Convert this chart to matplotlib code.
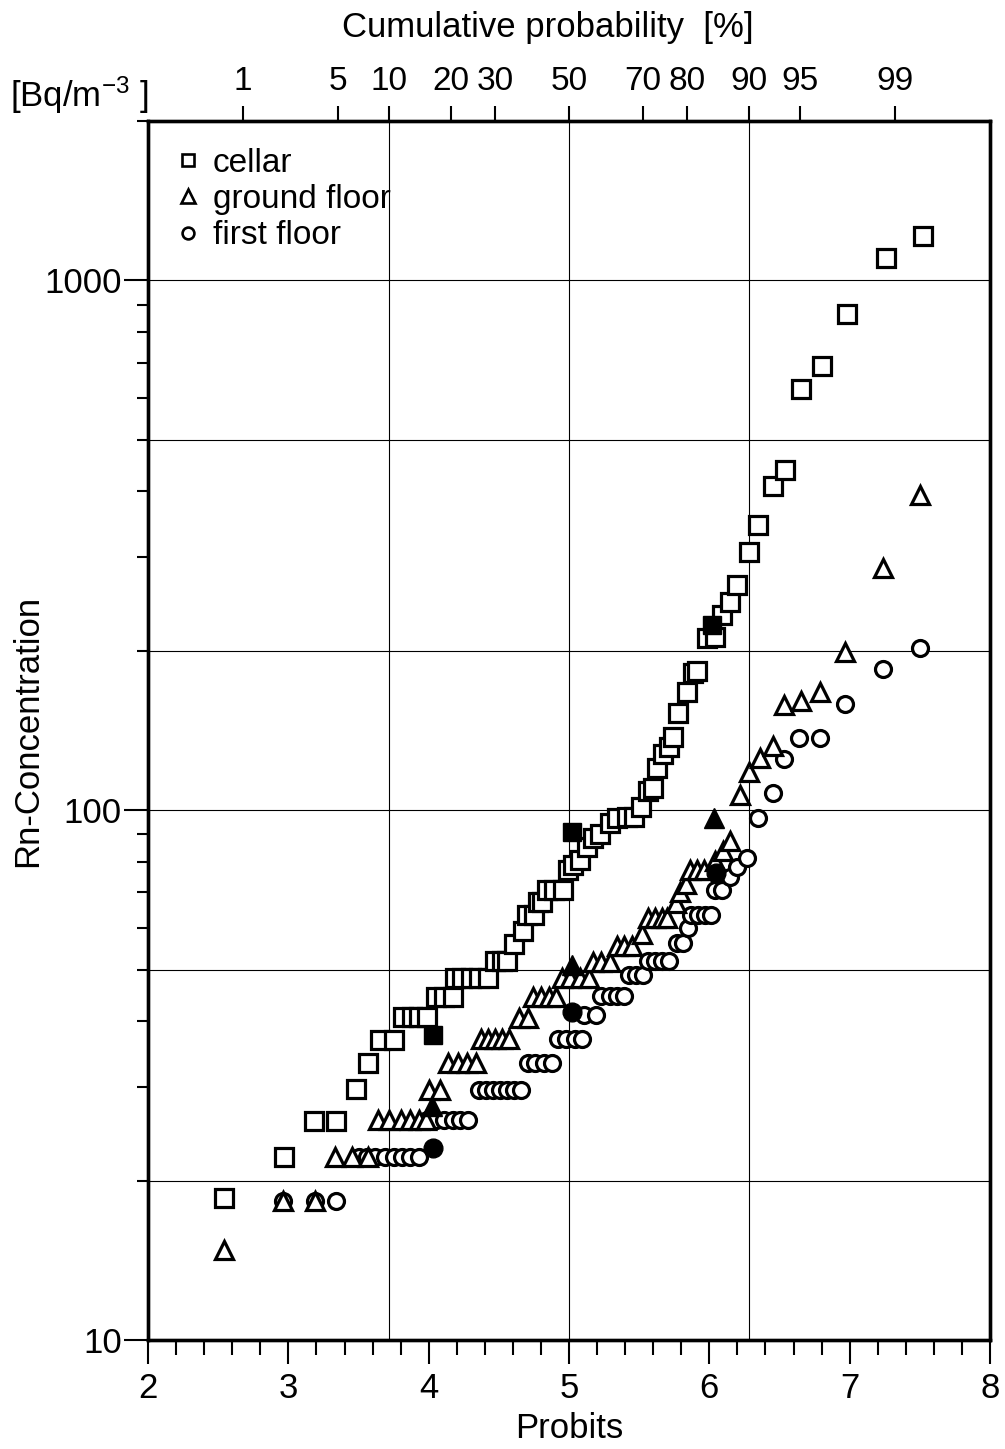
import math
import matplotlib
matplotlib.use("Agg")
import matplotlib.pyplot as plt
from matplotlib.lines import Line2D
from matplotlib.ticker import FixedLocator, LogLocator, NullFormatter

plt.rcParams['font.family'] = ['Liberation Sans', 'DejaVu Sans']
plt.rcParams['mathtext.fontset'] = 'custom'
plt.rcParams['mathtext.rm'] = 'Liberation Sans'
plt.rcParams['mathtext.it'] = 'Liberation Sans:italic'

# cellar (open squares)
cellar_probit = [2.54, 2.97, 3.18, 3.34, 3.48, 3.57, 3.65, 3.75,
                 3.82, 3.88, 3.93, 3.99,
                 4.05, 4.11, 4.17,
                 4.19, 4.24, 4.30, 4.36, 4.42,
                 4.47, 4.52, 4.56,
                 4.61, 4.67, 4.70, 4.75, 4.78, 4.81,
                 4.84, 4.89, 4.96,
                 4.99, 5.03, 5.08, 5.13, 5.17, 5.22, 5.29, 5.34, 5.41, 5.46, 5.51, 5.56, 5.60,
                 5.63, 5.67, 5.71, 5.74, 5.78, 5.84, 5.88, 5.91, 5.98, 6.04, 6.09, 6.15,
                 6.20, 6.28, 6.35, 6.45, 6.54, 6.65, 6.80, 6.98, 7.26, 7.52]
cellar_conc = [18.5, 22.2, 25.9, 25.9, 29.8, 33.3, 36.8, 36.8,
               40.7, 40.7, 40.7, 40.7,
               44.4, 44.4, 44.4,
               48.2, 48.2, 48.2, 48.2, 48.2,
               51.9, 51.9, 51.9,
               55.9, 59.1, 63.4, 63.4, 67.0, 67.0,
               70.6, 70.6, 70.6,
               77.1, 78.7, 80.5, 85.2, 88.5, 90.2, 94.5, 96.6, 96.9, 96.9, 101.4, 108.8, 110.3,
               120, 127.8, 131.4, 137.7, 152.4, 167, 181.7, 183.5, 211, 212, 233.5, 246.8,
               266, 307, 345, 410, 438, 625, 691, 866, 1101, 1211]

# ground floor (open triangles)
ground_probit = [2.54, 2.96, 3.19,
                 3.33, 3.45, 3.57,
                 3.64, 3.72, 3.80, 3.87, 3.93, 3.98,
                 4.00, 4.08,
                 4.14, 4.21, 4.27, 4.34,
                 4.37, 4.42, 4.47, 4.52, 4.57,
                 4.64, 4.71,
                 4.74, 4.80, 4.86, 4.91,
                 4.95, 5.01, 5.08, 5.14,
                 5.17, 5.23, 5.29,
                 5.34, 5.39, 5.45,
                 5.52,
                 5.56, 5.61, 5.66, 5.70,
                 5.76, 5.79, 5.83,
                 5.86, 5.91, 5.96,
                 6.04, 6.10, 6.15,
                 6.22, 6.28, 6.36, 6.45, 6.53, 6.65, 6.79, 6.97, 7.24, 7.50]
ground_conc = [14.8, 18.3, 18.3,
               22.2, 22.2, 22.2,
               26.0, 26.0, 26.0, 26.0, 26.0, 26.0,
               29.6, 29.6,
               33.3, 33.3, 33.3, 33.3,
               37.0, 37.0, 37.0, 37.0, 37.0,
               40.5, 40.5,
               44.4, 44.4, 44.4, 44.4,
               48.3, 48.3, 48.3, 48.3,
               51.8, 51.8, 51.8,
               55.5, 55.5, 55.5,
               58.5,
               62.6, 62.6, 62.6, 62.6,
               66.8, 70.0, 72.6,
               77.0, 77.0, 77.0,
               80.2, 83.9, 87.6,
               106.7, 118, 125.6, 132.5, 158, 161, 167.5, 199, 287, 393]

# first floor (open circles)
first_probit = [2.96, 3.19, 3.34,
                3.50, 3.56, 3.62, 3.69, 3.75, 3.81, 3.87, 3.93,
                3.99, 4.05, 4.11, 4.17, 4.22, 4.28,
                4.36, 4.41, 4.46, 4.51, 4.56, 4.61, 4.66,
                4.71, 4.76, 4.82, 4.88,
                4.92, 4.98, 5.04, 5.09,
                5.11, 5.19,
                5.23, 5.29, 5.34, 5.39,
                5.43, 5.48, 5.53,
                5.56, 5.61, 5.66, 5.71,
                5.77, 5.81,
                5.85,
                5.87, 5.92, 5.97, 6.01,
                6.04, 6.09,
                6.15, 6.20, 6.27,
                6.35, 6.45, 6.53, 6.64, 6.79, 6.97, 7.24, 7.50]
first_conc = [18.3, 18.3, 18.3,
              22.2, 22.2, 22.2, 22.2, 22.2, 22.2, 22.2, 22.2,
              26.0, 26.0, 26.0, 26.0, 26.0, 26.0,
              29.6, 29.6, 29.6, 29.6, 29.6, 29.6, 29.6,
              33.3, 33.3, 33.3, 33.3,
              37.0, 37.0, 37.0, 37.0,
              41.0, 41.0,
              44.6, 44.6, 44.6, 44.6,
              48.8, 48.8, 48.8,
              52.0, 52.0, 52.0, 52.0,
              56.1, 56.1,
              60.0,
              63.4, 63.4, 63.4, 63.4,
              70.6, 70.6,
              74.7, 78.1, 81.4,
              96.6, 107.6, 125, 137, 137, 159, 185, 202]

# filled markers at probits 4, 5, 6
cellar_mark_probit = [4.03, 5.02, 6.02]
cellar_mark_conc = [37.6, 91.0, 224.0]
ground_mark_probit = [4.02, 5.02, 6.03]
ground_mark_conc = [27.6, 51.0, 96.6]
first_mark_probit = [4.03, 5.02, 6.05]
first_mark_conc = [23.0, 41.6, 76.0]

top_percent = [1, 5, 10, 20, 30, 50, 70, 80, 90, 95, 99]
grid_percent = [10, 50, 90]
grid_conc = [20, 50, 100, 200, 500, 1000]


def probit(pct):
    q = pct / 100.0
    lo, hi = -8.0, 8.0
    for _ in range(80):
        mid = (lo + hi) / 2
        if 0.5 * (1 + math.erf(mid / math.sqrt(2))) < q:
            lo = mid
        else:
            hi = mid
    return 5 + (lo + hi) / 2


fig = plt.figure(figsize=(10.05, 14.49), dpi=100)
ax = fig.add_axes([0.1473, 0.0752, 0.8378, 0.8413])
ax.set_xlim(2, 8)
ax.set_yscale('log')
ax.set_ylim(10, 2000)

for p in grid_percent:
    ax.axvline(probit(p), color='black', lw=0.8, zorder=1)
for c in grid_conc:
    ax.axhline(c, color='black', lw=0.8, zorder=1)

mk = dict(linestyle='none', markerfacecolor='white', markeredgecolor='black',
          markeredgewidth=2.3, zorder=3)
ax.plot(first_probit, first_conc, marker='o', markersize=11.5, **mk)
ax.plot(ground_probit, ground_conc, marker='^', markersize=13, **mk)
ax.plot(cellar_probit, cellar_conc, marker='s', markersize=12.5, **mk)

fk = dict(linestyle='none', color='black', zorder=4)
ax.plot(cellar_mark_probit, cellar_mark_conc, marker='s', markersize=13.5, **fk)
ax.plot(ground_mark_probit, ground_mark_conc, marker='^', markersize=15, **fk)
ax.plot(first_mark_probit, first_mark_conc, marker='o', markersize=13.5, **fk)

for s in ax.spines.values():
    s.set_linewidth(2.4)

ax.xaxis.set_major_locator(FixedLocator([2, 3, 4, 5, 6, 7, 8]))
ax.xaxis.set_minor_locator(FixedLocator([2 + 0.2 * i for i in range(31)]))
ax.yaxis.set_major_locator(FixedLocator([10, 100, 1000]))
ax.yaxis.set_minor_locator(LogLocator(base=10, subs=range(2, 10)))
ax.yaxis.set_minor_formatter(NullFormatter())
ax.set_yticklabels(['10', '100', '1000'])
ax.tick_params(axis='x', which='major', direction='out', length=17, width=1.5,
               labelsize=25, pad=6)
ax.tick_params(axis='x', which='minor', direction='out', length=11, width=1.5)
ax.tick_params(axis='y', which='major', direction='out', length=17, width=1.5,
               labelsize=25, pad=2)
ax.tick_params(axis='y', which='minor', direction='out', length=8, width=1.5)

ax2 = ax.twiny()
ax2.set_xlim(2, 8)
ax2.set_xticks([probit(p) for p in top_percent])
ax2.set_xticklabels([str(p) for p in top_percent])
ax2.tick_params(axis='x', direction='out', length=11, width=1.5, labelsize=24, pad=6)
for s in ax2.spines.values():
    s.set_linewidth(2.4)

ax.set_xlabel('Probits', fontsize=25, labelpad=5)
ax.set_ylabel('Rn-Concentration', fontsize=25, labelpad=0)
fig.text(0.545, 0.981, 'Cumulative probability  [%]', fontsize=25, ha='center', va='center')
fig.text(0.01, 0.934, r'[Bq/m$^{-3}$ ]', fontsize=25, ha='left', va='center')

handles = [
    Line2D([], [], linestyle='none', marker='s', markersize=8.5, markerfacecolor='white',
           markeredgecolor='black', markeredgewidth=1.9, label='cellar'),
    Line2D([], [], linestyle='none', marker='^', markersize=9.5, markerfacecolor='white',
           markeredgecolor='black', markeredgewidth=1.9, label='ground floor'),
    Line2D([], [], linestyle='none', marker='o', markersize=8.5, markerfacecolor='white',
           markeredgecolor='black', markeredgewidth=1.9, label='first floor'),
]
ax.legend(handles=handles, loc='upper left', bbox_to_anchor=(0.0, 1.0), frameon=False,
          fontsize=24, handlelength=0.8, handletextpad=0.35, labelspacing=0.16,
          borderaxespad=0.5, borderpad=0.3)

fig.savefig('out.png', dpi=100)
